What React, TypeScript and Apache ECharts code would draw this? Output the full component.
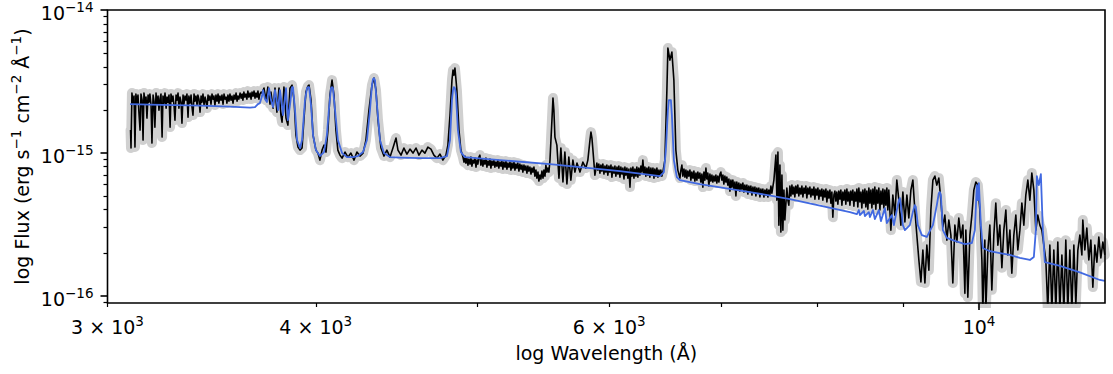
import React, { useEffect, useRef } from 'react';
import * as echarts from 'echarts';

// Flux values are in units of 1e-15 erg s^-1 cm^-2 Å^-1, wavelengths in Å.
const FLUX_UNIT = 1e-15;
const X_MIN = 3000;
const X_MAX = 11900;
const Y_MIN = 8.9e-17;
const Y_MAX = 1e-14;

const OBSERVED: [number, number][] = [
  [3097,1.444],
  [3099,1.081],[3103,2.620],[3108,2.195],[3112,2.497],[3116,1.098],[3120,2.578],[3125,2.231],[3129,2.537],[3133,1.930],[3138,1.444],[3142,2.578],[3147,2.341],[3151,1.229],[3155,2.620],[3160,2.231],[3164,2.457],[3168,1.752],[3173,2.537],[3177,2.267],[3181,2.578],[3186,2.160],[3190,1.171],[3195,2.537],[3199,2.304],[3203,1.515],[3208,2.620],[3212,2.195],[3217,2.497],[3221,1.993],[3226,2.418],[3230,2.578],[3235,1.290],[3239,2.497],[3244,2.231],[3248,2.620],[3253,2.058],[3257,2.457],[3261,2.267],[3266,2.537],[3271,1.515],[3275,2.578],[3280,2.304],[3284,2.497],[3289,2.126],[3293,1.696],[3298,2.537],[3302,2.341],[3307,2.620],[3311,2.058],[3316,2.457],[3321,2.267],[3325,1.616],[3330,2.537],[3334,2.195],[3339,2.497],[3344,2.341],[3348,2.578],[3353,1.780],[3357,2.497],[3362,2.231],[3367,2.537],[3371,2.126],[3376,1.838],[3381,2.578],[3385,2.304],[3390,2.497],[3395,2.160],[3399,2.537],[3404,2.379],[3409,1.930],[3414,2.497],[3418,2.267],[3423,2.578],[3428,2.160],[3433,2.457],[3437,2.304],[3442,2.058],[3447,2.537],[3451,2.341],[3456,2.497],[3461,2.195],[3466,2.578],[3471,2.379],[3475,2.497],[3480,2.160],[3485,2.537],[3490,2.304],[3495,2.578],[3499,2.231],[3504,2.497],[3509,2.341],[3514,2.537],[3519,2.195],[3524,2.578],[3529,2.379],[3534,2.457],[3538,2.231],[3543,2.537],[3548,2.304],[3553,2.578],[3558,2.341],[3563,2.497],[3568,2.231],[3573,2.537],[3578,2.379],[3583,2.620],[3588,2.304],[3592,2.497],[3597,2.379],[3603,2.620],[3608,2.418],[3613,2.578],[3617,2.341],[3622,2.663],[3627,2.457],[3632,2.578],[3637,2.379],[3642,2.706],[3647,2.457],[3653,2.620],[3658,2.379],[3663,2.663],[3668,2.497],[3673,2.706],[3678,2.418],[3683,2.620],[3688,2.457],[3693,2.706],[3698,2.379],[3703,2.578],[3709,2.663],
  [3714,2.620],[3724,2.840],[3734,2.341],[3744,2.886],[3755,2.195],[3760,2.663],[3771,2.058],[3781,2.840],[3791,1.930],[3802,2.840],[3812,1.838],[3818,1.642],[3828,2.886],[3839,1.752],[3849,1.565],[3860,2.840],[3871,2.981],[3882,2.341],[3892,1.332],[3903,1.098],[3914,1.046],[3925,1.081],[3935,1.696],[3946,2.663],[3957,2.933],[3963,2.981],[3974,2.341],[3985,1.332],[4001,1.046],[4012,0.997],[4023,0.890],[4035,1.046],[4046,1.134],[4057,1.013],[4068,1.444],[4079,2.537],[4091,3.231],[4102,2.537],[4113,1.444],[4124,1.046],[4136,0.965],[4148,0.919],[4165,1.013],[4182,0.934],[4199,0.997],[4217,0.890],[4234,1.013],[4252,0.950],[4270,0.997],[4287,1.229],[4305,1.993],[4323,2.981],[4335,3.337],[4347,2.750],[4359,1.696],[4377,1.081],[4395,0.950],[4413,1.046],[4432,0.934],[4450,1.081],[4469,1.269],[4481,1.046],[4500,0.965],[4518,1.081],[4537,0.981],[4556,1.063],[4575,0.997],[4594,1.081],[4613,0.965],[4632,1.046],[4651,0.997],[4670,1.098],[4690,1.063],[4709,0.965],[4729,0.919],[4749,0.981],[4768,0.890],[4788,0.965],[4801,1.134],[4815,1.838],[4828,3.231],[4835,3.796],[4841,3.502],[4848,3.921],[4861,2.750],[4875,1.444],[4888,1.046],
  [4902,0.934],[4909,0.862],[4915,0.950],[4922,0.848],[4929,0.919],[4936,0.821],[4942,0.905],[4950,0.835],[4956,0.934],[4963,0.808],[4970,0.890],[4977,0.848],[4984,0.919],[4991,0.795],[4998,0.890],[5004,0.835],[5011,0.934],[5018,0.965],[5025,0.821],[5032,0.905],[5039,0.808],[5046,0.890],[5053,0.835],[5060,0.919],[5067,0.795],[5074,0.876],[5081,0.821],[5088,0.905],[5095,0.783],[5102,0.876],[5109,0.821],[5116,0.890],[5123,0.795],[5130,0.862],[5137,0.808],[5144,0.890],[5151,0.783],[5159,0.862],[5166,0.808],[5173,0.876],[5180,0.770],[5187,0.862],[5195,0.795],[5202,0.876],[5209,0.770],[5216,0.848],[5223,0.795],[5231,0.862],[5238,0.758],[5245,0.848],[5252,0.783],[5260,0.862],[5267,0.758],[5274,0.835],[5281,0.783],[5288,0.848],[5296,0.746],[5303,0.835],[5311,0.770],[5318,0.821],[5325,0.734],[5333,0.821],[5340,0.758],[5347,0.808],[5355,0.722],[5362,0.808],[5369,0.746],[5377,0.795],[5385,0.711],[5392,0.783],[5399,0.734],[5407,0.795],[5414,0.688],[5422,0.758],[5429,0.666],[5437,0.734],[5444,0.635],[5452,0.699],[5459,0.656],[5467,0.746],[5475,0.666],[5482,0.758],[5490,0.688],[5497,0.821],[5505,0.734],[5512,0.783],[5520,0.734],[5528,0.890],
  [5543,1.696],[5551,2.418],[5558,1.993],[5566,1.290],[5581,1.134],[5597,0.666],[5612,1.081],[5628,0.625],[5643,1.013],[5659,0.605],[5674,0.934],[5690,0.645],[5706,0.890],[5722,0.734],[5738,0.848],[5762,0.734],[5785,0.862],[5809,0.783],[5825,0.890],[5842,1.229],[5850,1.398],[5858,1.269],[5866,1.046],[5882,0.699],
  [5898,0.848],[5906,0.758],[5914,0.835],[5923,0.722],[5931,0.821],[5939,0.746],[5947,0.835],[5956,0.711],[5964,0.808],[5972,0.734],[5980,0.821],[5988,0.699],[5997,0.808],[6005,0.734],[6014,0.821],[6022,0.677],[6030,0.795],[6039,0.722],[6047,0.808],[6055,0.688],[6064,0.795],[6072,0.711],[6080,0.808],[6089,0.677],[6097,0.795],[6106,0.711],[6114,0.783],[6123,0.656],[6131,0.795],[6139,0.699],[6148,0.783],[6156,0.666],[6165,0.770],[6174,0.576],[6182,0.783],[6191,0.688],[6199,0.795],[6208,0.666],[6216,0.770],[6225,0.688],[6233,0.795],[6242,0.677],[6250,0.783],[6259,0.699],[6268,0.808],[6277,0.734],[6285,0.890],[6294,0.711],[6303,0.795],[6311,0.688],[6320,0.783],[6329,0.699],[6337,0.795],[6346,0.677],[6355,0.783],[6364,0.699],[6373,0.783],[6382,0.666],[6390,0.770],[6399,0.688],[6408,0.783],[6417,0.677],[6426,0.758],[6435,0.699],[6443,0.758],[6452,0.688],[6461,0.734],[6479,0.890],
  [6497,2.750],[6506,5.411],[6524,4.460],[6542,5.074],[6560,3.231],[6578,1.046],[6596,0.758],
  [6615,0.666],[6624,0.758],[6633,0.821],[6642,0.688],[6652,0.770],[6661,0.677],[6670,0.758],[6679,0.666],[6688,0.746],[6697,0.688],[6707,0.758],[6716,0.645],[6725,0.734],[6735,0.666],[6744,0.746],[6753,0.635],[6763,0.722],[6772,0.645],[6781,0.734],[6790,0.666],[6800,0.722],[6809,0.625],[6819,0.711],[6828,0.576],[6838,0.734],[6847,0.645],[6857,0.783],[6866,0.656],[6875,0.722],[6885,0.586],[6895,0.711],[6904,0.635],[6914,0.699],[6923,0.625],[6933,0.688],[6942,0.635],[6952,0.699],[6961,0.615],[6971,0.688],[6981,0.625],[6991,0.711],[7000,0.734],[7010,0.645],[7020,0.699],[7029,0.605],[7039,0.688],[7049,0.625],[7058,0.677],[7068,0.595],[7078,0.656],[7088,0.540],[7098,0.645],[7107,0.576],[7117,0.645],[7127,0.558],[7137,0.625],[7147,0.499],[7156,0.625],[7166,0.549],[7176,0.615],[7186,0.540],[7196,0.605],[7206,0.558],[7216,0.615],[7226,0.532],[7236,0.595],[7246,0.549],[7256,0.595],[7266,0.515],[7276,0.586],[7286,0.540],[7296,0.586],[7307,0.507],[7317,0.576],[7327,0.532],[7337,0.576],[7347,0.499],[7357,0.567],[7367,0.523],[7377,0.567],[7388,0.491],[7398,0.558],[7408,0.515],[7418,0.558],[7429,0.491],[7439,0.549],[7449,0.507],[7459,0.558],[7470,0.491],[7480,0.549],[7490,0.507],[7501,0.586],[7511,0.523],[7532,0.645],
  [7553,0.965],[7563,0.467],[7574,1.013],[7584,0.312],[7595,0.821],[7605,0.279],[7616,0.699],[7626,0.288],[7637,0.549],[7647,0.339],
  [7668,0.567],[7679,0.467],[7689,0.431],[7700,0.586],[7711,0.499],[7722,0.595],[7732,0.515],[7743,0.576],[7753,0.491],[7764,0.586],[7775,0.523],[7785,0.595],[7796,0.499],[7807,0.567],[7818,0.515],[7829,0.586],[7840,0.491],[7851,0.567],[7861,0.523],[7872,0.586],[7883,0.483],[7894,0.567],[7905,0.515],[7916,0.576],[7927,0.491],[7938,0.558],[7949,0.507],[7960,0.576],[7971,0.475],[7982,0.558],[7993,0.507],[8004,0.567],[8015,0.475],[8026,0.549],[8037,0.499],[8048,0.558],[8059,0.467],[8070,0.549],[8082,0.491],[8093,0.558],[8104,0.453],[8115,0.540],[8126,0.483],[8138,0.549],[8149,0.445],[8160,0.532],[8171,0.355],[8183,0.507],[8194,0.540],[8205,0.460],[8216,0.532],[8228,0.438],[8239,0.540],[8251,0.475],[8262,0.549],[8274,0.431],[8285,0.532],[8296,0.467],[8308,0.549],[8319,0.438],[8331,0.558],[8342,0.460],[8354,0.532],[8366,0.431],[8377,0.540],[8389,0.467],[8400,0.549],[8412,0.424],[8423,0.532],[8435,0.460],[8447,0.558],[8458,0.418],[8470,0.567],[8482,0.453],[8494,0.532],[8505,0.411],[8517,0.549],[8529,0.445],[8541,0.558],[8552,0.418],[8564,0.540],[8576,0.404],[8588,0.567],[8600,0.445],[8612,0.549],[8624,0.411],[8636,0.558],[8647,0.438],[8659,0.576],[8671,0.404],[8683,0.549],[8695,0.445],[8707,0.567],[8720,0.398],[8732,0.540],[8744,0.438],[8756,0.558],[8768,0.411],[8780,0.549],[8792,0.431],[8804,0.567],[8816,0.398],[8828,0.549],[8853,0.288],
  [8877,0.507],[8902,0.367],[8926,0.645],[8951,0.467],[8976,0.312],[9001,0.532],[9026,0.328],[9051,0.507],[9075,0.350],[9101,0.549],[9126,0.645],[9151,0.398],[9176,0.266],[9202,0.178],[9228,0.125],[9253,0.209],[9279,0.123],[9304,0.226],[9330,0.151],[9356,0.398],[9382,0.645],[9408,0.688],[9433,0.595],[9459,0.666],[9486,0.467],[9512,0.303],[9538,0.367],[9565,0.245],[9591,0.339],[9618,0.266],[9644,0.123],[9671,0.312],[9698,0.238],[9724,0.350],[9752,0.254],[9779,0.312],[9806,0.104],[9819,0.288],[9846,0.0976],[9874,0.266],[9901,0.367],[9928,0.549],[9956,0.625],[9983,0.595],[10011,0.398],[10039,0.178],[10052,0.0794],[10080,0.245],[10094,0.0794],[10122,0.209],[10150,0.312],[10178,0.110],[10206,0.266],[10234,0.445],[10263,0.226],[10291,0.312],[10320,0.157],[10348,0.288],[10377,0.398],[10405,0.193],[10435,0.288],[10463,0.144],[10492,0.266],[10521,0.367],[10550,0.209],[10580,0.288],[10609,0.445],[10638,0.312],[10667,0.507],[10697,0.645],[10727,0.467],[10756,0.722],[10786,0.549],[10816,0.288],[10845,0.367],[10876,0.312],[10906,0.288],[10936,0.226],[10966,0.178],[10996,0.0794],[11027,0.226],[11058,0.0794],[11088,0.209],[11119,0.0794],[11149,0.238],[11181,0.0794],[11212,0.193],[11243,0.0794],[11273,0.245],[11304,0.0794],[11336,0.209],[11368,0.0794],[11399,0.226],[11430,0.0861],[11462,0.209],[11494,0.266],[11526,0.193],[11541,0.339],[11573,0.209],[11605,0.298],[11637,0.178],[11670,0.245],[11702,0.115],[11734,0.226],[11767,0.172],[11799,0.258],[11832,0.184],[11865,0.238],[11897,0.193],
];

const MODEL: [number, number][] = [
  [3095,2.195],[3181,2.177],[3409,2.143],[3553,2.109],[3653,2.075],[3678,2.092],[3693,2.195],[3703,2.231],[3714,2.497],[3719,2.750],[3729,2.379],[3739,2.267],[3750,2.840],[3760,2.341],[3771,2.092],[3781,2.750],[3791,2.267],[3797,1.993],[3807,2.750],[3818,2.126],[3823,1.838],[3839,2.840],[3849,1.696],[3860,2.160],[3871,2.886],[3876,2.886],[3887,1.993],[3898,1.229],[3914,1.081],[3925,1.229],[3941,2.341],[3952,2.840],[3957,2.886],[3963,2.886],[3974,2.160],[3985,1.332],[4001,1.046],[4023,0.950],[4046,1.013],[4062,1.332],[4073,1.993],[4085,2.840],[4091,2.886],[4096,2.840],[4108,1.993],[4124,1.229],[4148,0.997],[4176,0.934],[4211,0.934],[4240,0.950],[4270,1.013],[4293,1.229],[4311,1.993],[4323,2.981],[4329,3.284],[4335,3.337],[4341,3.231],[4353,2.160],[4371,1.229],[4395,0.997],[4432,0.934],[4493,0.927],[4619,0.919],[4749,0.919],[4795,0.950],[4815,1.229],[4828,2.341],[4835,2.750],[4841,2.886],[4848,2.840],[4855,2.537],[4868,1.444],[4888,1.013],[4915,0.934],[5159,0.890],[5528,0.835],[5923,0.770],[6089,0.746],[6435,0.688],[6470,0.734],[6488,1.046],[6506,1.993],[6515,2.341],[6533,2.341],[6542,1.838],[6560,0.890],[6587,0.677],[6615,0.645],[6800,0.605],[7286,0.532],[7700,0.475],[8366,0.385],[8447,0.373],[8470,0.398],[8482,0.367],[8529,0.392],[8541,0.361],[8588,0.385],[8600,0.355],[8636,0.398],[8659,0.344],[8707,0.398],[8732,0.333],[8780,0.411],[8804,0.323],[8865,0.367],[8890,0.312],[8926,0.398],[8951,0.467],[8964,0.483],[8976,0.431],[9001,0.312],[9026,0.288],[9088,0.312],[9126,0.385],[9151,0.431],[9164,0.418],[9189,0.312],[9240,0.266],[9304,0.258],[9382,0.312],[9433,0.431],[9459,0.523],[9473,0.532],[9486,0.507],[9512,0.288],[9565,0.254],[9671,0.242],[9806,0.230],[9901,0.234],[9942,0.288],[9969,0.595],[9983,0.467],[9997,0.615],[10025,0.312],[10052,0.216],[10150,0.205],[10291,0.199],[10435,0.193],[10580,0.184],[10727,0.178],[10786,0.187],[10816,0.288],[10831,0.688],[10860,0.595],[10891,0.711],[10921,0.288],[10951,0.172],[11181,0.162],[11494,0.146],[11816,0.129],[11897,0.127],
];

const X_LABEL_WAVES = [3000, 4000, 6000, 10000];
const X_LABELS = ['{b|3 × 10}{s|3}', '{b|4 × 10}{s|3}', '{b|6 × 10}{s|3}', '{b|10}{s|4}'];
const X_MAJOR_TICKS = [10000];
const X_MINOR_TICKS = [3000, 4000, 5000, 6000, 7000, 8000, 9000];
const Y_MAJOR_TICKS = [1e-16, 1e-15, 1e-14];
const Y_LABELS = ['{b|10}{s|−16}', '{b|10}{s|−15}', '{b|10}{s|−14}'];
const Y_MINOR_TICKS = [
  9e-17, 2e-16, 3e-16, 4e-16, 5e-16, 6e-16, 7e-16, 8e-16, 9e-16,
  2e-15, 3e-15, 4e-15, 5e-15, 6e-15, 7e-15, 8e-15, 9e-15,
];

const X_TITLE = 'log Wavelength (Å)';
const Y_TITLE = 'log Flux (erg s{s|−1} cm{s|−2} Å{s|−1})';

const FONT = 'DejaVu Sans';
const FONT_SIZE = 19;
const SUP_SIZE = 13.5;

const lg = Math.log10;
const toXY = (pts: [number, number][]) =>
  pts.map(([w, f]) => [lg(w), lg(f * FLUX_UNIT)]);

const lookup = (values: number[], labels: string[]) => (v: number) => {
  const i = values.findIndex((t) => Math.abs(lg(t) - v) < 1e-6);
  return i >= 0 ? labels[i] : '';
};

export default function App() {
  const ref = useRef<HTMLDivElement>(null);

  useEffect(() => {
    if (!ref.current) return;
    const chart = echarts.init(ref.current, undefined, { renderer: 'svg' });
    const textStyle = { color: '#000', fontFamily: FONT, fontSize: FONT_SIZE };
    const rich = {
      b: { color: '#000', fontFamily: FONT, fontSize: FONT_SIZE, lineHeight: 26, verticalAlign: 'middle' },
      s: { color: '#000', fontFamily: FONT, fontSize: SUP_SIZE, lineHeight: 14, verticalAlign: 'top' },
    };
    const xMin = lg(X_MIN);
    const xMax = lg(X_MAX);
    const yMin = lg(Y_MIN);
    const yMax = lg(Y_MAX);
    const obs = toXY(OBSERVED);
    const model = toXY(MODEL);

    chart.setOption({
      animation: false,
      backgroundColor: '#fff',
      grid: {
        left: 107.5,
        right: 8,
        top: 10,
        bottom: 71,
        show: true,
        borderColor: '#000',
        borderWidth: 1.6,
        backgroundColor: 'transparent',
        containLabel: false,
        outerBoundsMode: 'none',
        z: 10,
      },
      xAxis: [
        {
          type: 'value',
          position: 'bottom',
          min: xMin,
          max: xMax,
          z: 10,
          axisLine: { show: false },
          splitLine: { show: false },
          axisTick: {
            show: true,
            customValues: X_MAJOR_TICKS.map(lg),
            length: 7,
            lineStyle: { color: '#000', width: 1.6 },
          },
          axisLabel: {
            ...textStyle,
            customValues: X_LABEL_WAVES.map(lg),
            margin: 11,
            rich,
            formatter: lookup(X_LABEL_WAVES, X_LABELS),
          },
          name: X_TITLE,
          nameLocation: 'middle',
          nameGap: 40,
          nameMoveOverlap: false,
          nameTextStyle: textStyle,
        },
        {
          type: 'value',
          position: 'bottom',
          min: xMin,
          max: xMax,
          z: 10,
          axisLine: { show: false },
          splitLine: { show: false },
          axisLabel: { show: false },
          axisTick: {
            show: true,
            customValues: X_MINOR_TICKS.map(lg),
            length: 4,
            lineStyle: { color: '#000', width: 1.2 },
          },
        },
      ],
      yAxis: [
        {
          type: 'value',
          position: 'left',
          min: yMin,
          max: yMax,
          z: 10,
          axisLine: { show: false },
          splitLine: { show: false },
          axisTick: {
            show: true,
            customValues: Y_MAJOR_TICKS.map(lg),
            length: 7,
            lineStyle: { color: '#000', width: 1.6 },
          },
          axisLabel: {
            ...textStyle,
            customValues: Y_MAJOR_TICKS.map(lg),
            margin: 14,
            padding: [6, 0, 0, 0],
            rich,
            formatter: lookup(Y_MAJOR_TICKS, Y_LABELS),
          },
          name: Y_TITLE,
          nameLocation: 'middle',
          nameGap: 73,
          nameMoveOverlap: false,
          nameTextStyle: { ...textStyle, lineHeight: 26, rich },
        },
        {
          type: 'value',
          position: 'left',
          min: yMin,
          max: yMax,
          z: 10,
          axisLine: { show: false },
          splitLine: { show: false },
          axisLabel: { show: false },
          axisTick: {
            show: true,
            customValues: Y_MINOR_TICKS.map(lg),
            length: 4,
            lineStyle: { color: '#000', width: 1.2 },
          },
        },
      ],
      series: [
        {
          type: 'line',
          name: 'halo',
          data: obs,
          showSymbol: false,
          symbol: 'none',
          silent: true,
          z: 2,
          lineStyle: { color: '#d0d0d0', width: 10, cap: 'round', join: 'round' },
        },
        {
          type: 'line',
          name: 'observed',
          data: obs,
          showSymbol: false,
          symbol: 'none',
          silent: true,
          z: 3,
          lineStyle: { color: '#000', width: 1.6, join: 'round' },
        },
        {
          type: 'line',
          name: 'model',
          data: model,
          showSymbol: false,
          symbol: 'none',
          silent: true,
          z: 4,
          lineStyle: { color: '#4169e1', width: 1.8, join: 'round' },
        },
      ],
    });

    return () => chart.dispose();
  }, []);

  return (
    <div
      ref={ref}
      style={{ position: 'fixed', left: 0, top: 0, width: 1113, height: 374, background: '#fff' }}
    />
  );
}
